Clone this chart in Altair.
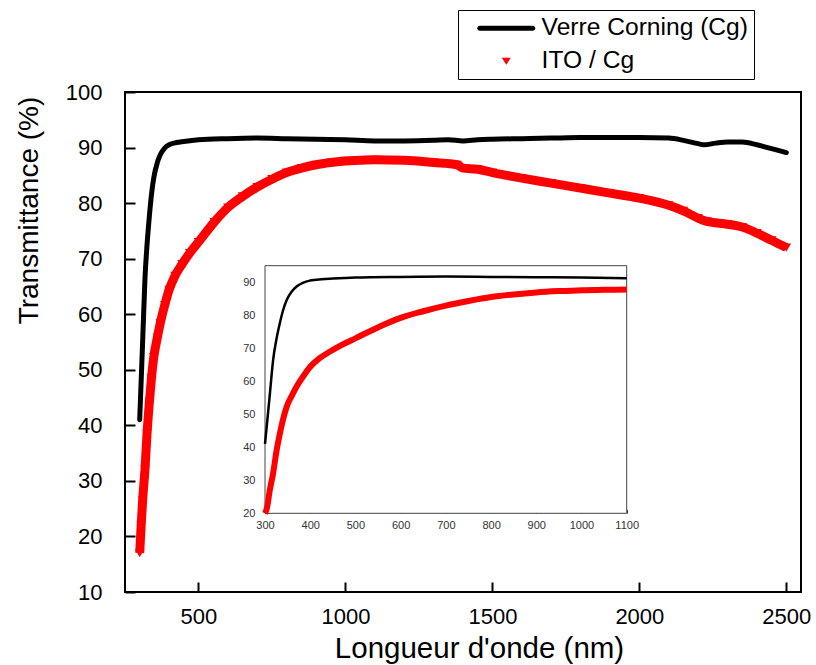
import altair as alt
import pandas as pd

# Transmission spectra: wavelength (nm) and transmittance (%)
wl_verre = [300, 305, 310, 318, 325, 333, 340, 348, 360, 370, 385, 400, 425, 450,
            500, 600, 700, 800, 900, 1000, 1100, 1200, 1300, 1350, 1400, 1450,
            1500, 1600, 1700, 1800, 1900, 2000, 2100, 2150, 2200, 2220, 2260,
            2300, 2350, 2400, 2450, 2500]
t_verre = [41.0, 48.0, 55.0, 66.5, 72.5, 77.7, 81.5, 84.6, 87.3, 88.7, 89.9, 90.5,
           90.9, 91.1, 91.4, 91.6, 91.7, 91.6, 91.5, 91.4, 91.2, 91.2, 91.3, 91.4,
           91.2, 91.4, 91.5, 91.6, 91.7, 91.8, 91.8, 91.8, 91.7, 91.3, 90.7, 90.5,
           90.8, 91.0, 91.0, 90.5, 89.8, 89.1]

wl_ito = [300, 305, 310, 318, 325, 333, 340, 348, 360, 370, 385, 400, 420, 444,
          470, 500, 554, 600, 650, 700, 750, 800, 850, 900, 950, 1000, 1050, 1100,
          1200, 1300, 1380, 1400, 1450, 1500, 1600, 1700, 1800, 1900, 2000, 2100,
          2150, 2200, 2230, 2300, 2350, 2400, 2450, 2500]
t_ito = [17.0, 22.0, 26.5, 32.1, 38.5, 44.2, 48.5, 52.3, 55.8, 58.4, 61.6, 64.4,
         66.9, 69.0, 71.0, 73.0, 76.6, 79.2, 81.2, 82.9, 84.3, 85.5, 86.3, 86.9,
         87.3, 87.6, 87.7, 87.8, 87.7, 87.3, 86.9, 86.3, 86.1, 85.5, 84.5, 83.6,
         82.7, 81.8, 80.9, 79.6, 78.6, 77.3, 76.7, 76.2, 75.7, 74.6, 73.3, 72.0]

series = ["Verre Corning (Cg)", "ITO / Cg"]
series_colors = ["black", "red"]

x_ticks = [500, 1000, 1500, 2000, 2500]
y_ticks = [10, 20, 30, 40, 50, 60, 70, 80, 90, 100]
x_domain = [250, 2550]
y_domain = [10, 100]

# zoomed view of the UV-visible part
inset_x_domain = [300, 1100]
inset_y_domain = [20, 95]
inset_x_ticks = [300, 400, 500, 600, 700, 800, 900, 1000, 1100]
inset_y_ticks = [20, 30, 40, 50, 60, 70, 80, 90]

# layout (pixels)
W, H = 676, 500
INSET_X_RANGE = [140, 501.7]
INSET_Y_RANGE = [421.3, 173.7]
FONT = "Liberation Sans"

# legend symbols: a thick rounded line and a small downward triangle
LINE_PATH = "M-5.3,-0.5H5.3A0.5,0.5,0,0,1,5.3,0.5H-5.3A0.5,0.5,0,0,1,-5.3,-0.5Z"
TRI_PATH = "M-0.9,-0.7H0.9L0,0.7Z"

df_verre = pd.DataFrame({"wl": wl_verre, "T": t_verre, "serie": series[0]})
df_ito = pd.DataFrame({"wl": wl_ito, "T": t_ito, "serie": series[1]})
df_verre_in = df_verre[df_verre["wl"] <= inset_x_domain[1]]
df_ito_in = df_ito[df_ito["wl"] <= inset_x_domain[1]]

# ---------------- main plot ----------------
xs = alt.Scale(domain=x_domain, nice=False, zero=False)
ys = alt.Scale(domain=y_domain, nice=False, zero=False)

ax_x = alt.Axis(values=x_ticks, orient="bottom", format="d", domain=False, grid=False,
                ticks=True, tickSize=alt.ExprRef(expr="-10"), tickWidth=2, tickColor="black",
                labelFont=FONT, labelFontSize=22, labelColor="black", labelPadding=24,
                labelFlush=False, title="Longueur d'onde (nm)", titleFont=FONT,
                titleFontSize=29.5, titleFontWeight="normal", titleColor="black",
                titleX=354, titleY=65, titleBaseline="alphabetic", titleAlign="center")
ax_y = alt.Axis(values=y_ticks, orient="left", format="d", domain=False, grid=False,
                ticks=True, tickSize=alt.ExprRef(expr="-10"), tickWidth=2, tickColor="black",
                labelFont=FONT, labelFontSize=22, labelColor="black", labelPadding=33,
                labelFlush=False, title="Transmittance (%)", titleFont=FONT,
                titleFontSize=28, titleFontWeight="normal", titleColor="black",
                titleX=-88, titleY=118, titleAngle=270, titleBaseline="alphabetic",
                titleAlign="center")

black_main = alt.Chart(df_verre).mark_line(
    color="black", strokeWidth=5, strokeCap="round", strokeJoin="round", interpolate="monotone"
).encode(
    x=alt.X("wl:Q", scale=xs, axis=ax_x),
    y=alt.Y("T:Q", scale=ys, axis=ax_y),
)
red_band = alt.Chart(df_ito).mark_line(
    color="red", strokeWidth=9, interpolate="monotone"
).encode(
    x=alt.X("wl:Q", scale=xs),
    y=alt.Y("T:Q", scale=ys),
)
red_pts = alt.Chart(df_ito).mark_point(
    shape="triangle-down", filled=True, color="red", size=90, opacity=1
).encode(
    x=alt.X("wl:Q", scale=xs),
    y=alt.Y("T:Q", scale=ys),
)
main = alt.layer(black_main, red_band, red_pts)

# ---------------- inset ----------------
ixs = alt.Scale(domain=inset_x_domain, range=INSET_X_RANGE, nice=False, zero=False)
iys = alt.Scale(domain=inset_y_domain, range=INSET_Y_RANGE, nice=False, zero=False, clamp=True)

ax_ix = alt.Axis(values=inset_x_ticks, orient="bottom", offset=-(H - INSET_Y_RANGE[0]),
                 format="d", domain=False, grid=False, ticks=True,
                 tickSize=alt.ExprRef(expr="-4"), tickWidth=1, tickColor="#444444",
                 labelFont=FONT, labelFontSize=11, labelColor="#333333", labelPadding=10,
                 labelFlush=False, title=None)
ax_iy = alt.Axis(values=inset_y_ticks, orient="left", offset=-INSET_X_RANGE[0],
                 format="d", domain=False, grid=False, ticks=True,
                 tickSize=alt.ExprRef(expr="-4"), tickWidth=1, tickColor="#444444",
                 labelFont=FONT, labelFontSize=11, labelColor="#333333", labelPadding=14,
                 labelFlush=False, title=None)

inset_box = pd.DataFrame({"x0": [inset_x_domain[0]], "x1": [inset_x_domain[1]],
                          "y0": [inset_y_domain[0]], "y1": [inset_y_domain[1]]})
inset_bg = alt.Chart(inset_box).mark_rect(fill="white", stroke="#444444", strokeWidth=1).encode(
    x=alt.X("x0:Q", scale=ixs, axis=ax_ix),
    x2="x1:Q",
    y=alt.Y("y0:Q", scale=iys, axis=ax_iy),
    y2="y1:Q",
)
inset_black = alt.Chart(df_verre_in).mark_line(
    color="black", strokeWidth=2.5, interpolate="monotone"
).encode(
    x=alt.X("wl:Q", scale=ixs),
    y=alt.Y("T:Q", scale=iys),
)
inset_red = alt.Chart(df_ito_in).mark_line(
    color="red", strokeWidth=6, interpolate="monotone"
).encode(
    x=alt.X("wl:Q", scale=ixs),
    y=alt.Y("T:Q", scale=iys),
)
inset = alt.layer(inset_bg, inset_black, inset_red)

# ---------------- legend ----------------
leg = alt.Legend(title=None, orient="none", legendX=333, legendY=-82, padding=6,
                 symbolOffset=30, labelOffset=23, rowPadding=8, labelFont=FONT,
                 labelFontSize=24.6, labelColor="black", strokeColor="black",
                 fillColor="white", symbolSize=100, symbolStrokeWidth=0,
                 symbolOpacity=1, labelLimit=400)
# helper marks that only feed the legend; kept outside the drawing
legend_layer = alt.Chart(pd.DataFrame({"serie": series})).mark_point(
    filled=True, size=100, opacity=1
).encode(
    x=alt.value(-400),
    y=alt.value(-400),
    color=alt.Color("serie:N", scale=alt.Scale(domain=series, range=series_colors), legend=leg),
    shape=alt.Shape("serie:N", scale=alt.Scale(domain=series, range=[LINE_PATH, TRI_PATH]), legend=leg),
)

chart = alt.layer(main, inset, legend_layer).resolve_scale(
    x="independent", y="independent"
).properties(
    width=W, height=H,
    autosize=alt.AutoSizeParams(type="none"),
    padding={"left": 125, "top": 92, "right": 15, "bottom": 73},
).configure(font=FONT).configure_view(stroke="black", strokeWidth=2)

chart.save("out.html", embed_options={"renderer": "svg", "actions": False})
